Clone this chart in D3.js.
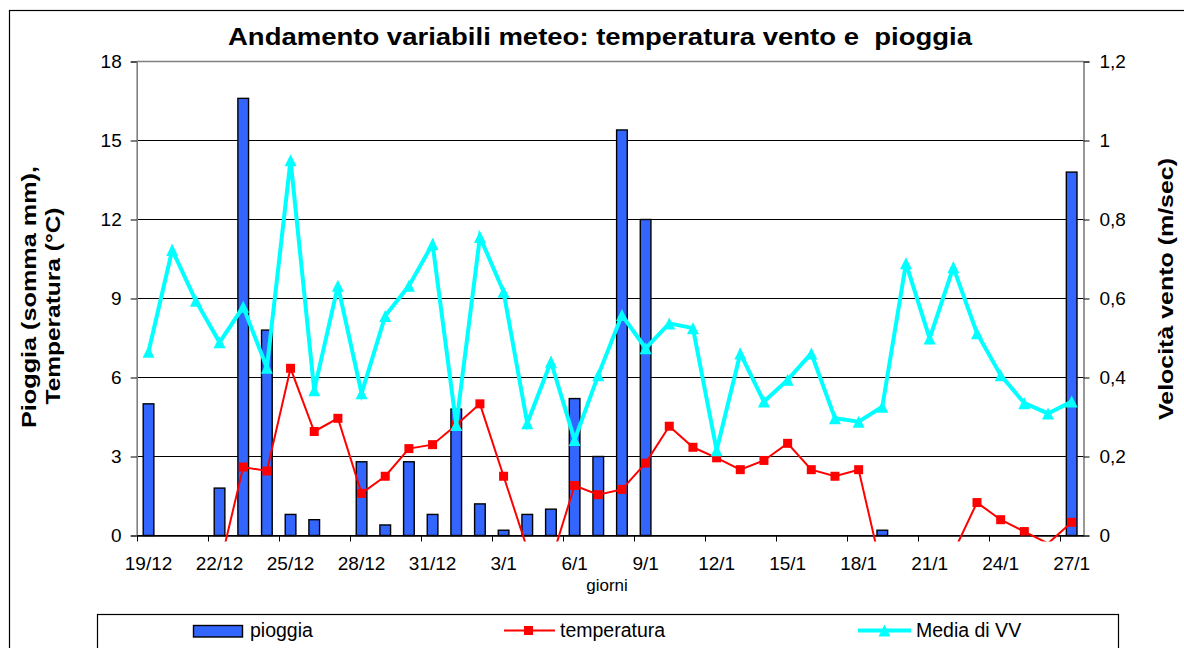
<!DOCTYPE html>
<html>
<head>
<meta charset="utf-8">
<script src="https://cdn.jsdelivr.net/npm/d3@7"></script>
<style>
  html, body { margin: 0; padding: 0; background: #fff; }
  svg { display: block; }
  text { font-family: "Liberation Sans", Arial, sans-serif; }
</style>
</head>
<body>
<svg id="chart" width="1184" height="648"></svg>
<script>
// ---- Data ----
const giorni = ["19/12","20/12","21/12","22/12","23/12","24/12","25/12","26/12","27/12","28/12",
  "29/12","30/12","31/12","1/1","2/1","3/1","4/1","5/1","6/1","7/1",
  "8/1","9/1","10/1","11/1","12/1","13/1","14/1","15/1","16/1","17/1",
  "18/1","19/1","20/1","21/1","22/1","23/1","24/1","25/1","26/1","27/1"];
const pioggia = [5.0,0,0,1.8,16.6,7.8,0.8,0.6,0,2.8,
  0.4,2.8,0.8,4.8,1.2,0.2,0.8,1.0,5.2,3.0,
  15.4,12.0,0,0,0,0,0,0,0,0,
  0,0.2,0,0,0,0,0,0,0,13.8];
const temperatura = [null,null,null,-1.2,2.6,2.45,6.35,3.95,4.45,1.6,
  2.25,3.3,3.45,4.2,5.0,2.25,-0.5,-1.0,1.9,1.55,
  1.75,2.75,4.15,3.35,2.95,2.5,2.85,3.5,2.5,2.25,
  2.5,-1.4,null,null,-0.65,1.25,0.6,0.15,-0.3,0.5];
const mediaVV = [0.465,0.723,0.594,0.489,0.579,0.425,0.95,0.368,0.632,0.36,
  0.556,0.632,0.738,0.28,0.756,0.617,0.284,0.44,0.242,0.406,
  0.558,0.474,0.537,0.525,0.216,0.461,0.339,0.394,0.461,0.297,
  0.288,0.326,0.689,0.499,0.679,0.512,0.406,0.335,0.309,0.339];
const xTickLabels = ["19/12","22/12","25/12","28/12","31/12","3/1","6/1","9/1","12/1","15/1","18/1","21/1","24/1","27/1"];
const leftTicks = [0,3,6,9,12,15,18];
const rightTicks = [0,0.2,0.4,0.6,0.8,1,1.2];
const rightTickLabels = ["0","0,2","0,4","0,6","0,8","1","1,2"];
const titleText = "Andamento variabili meteo: temperatura vento e  pioggia";
const seriesNames = ["pioggia","temperatura","Media di VV"];

// ---- Layout ----
const P = {left: 136.7, right: 1083.5, top: 61.5, bottom: 535.5};
const svg = d3.select("#chart");

const x = d3.scaleBand().domain(giorni).range([P.left, P.right]).padding(0);
const yL = d3.scaleLinear().domain([0,18]).range([P.bottom, P.top]);
const yR = d3.scaleLinear().domain([0,1.2]).range([P.bottom, P.top]);

// outer chart border
svg.append("rect").attr("x",9.5).attr("y",10.5).attr("width",1300).attr("height",800)
  .attr("fill","#fff").attr("stroke","#000").attr("stroke-width",1.2);

// clip paths
const defs = svg.append("defs");
defs.append("clipPath").attr("id","clipPlot").append("rect")
  .attr("x",P.left).attr("y",P.top - 1).attr("width",P.right-P.left).attr("height",P.bottom-P.top+1);
defs.append("clipPath").attr("id","clipLine").append("rect")
  .attr("x",P.left).attr("y",P.top - 8).attr("width",P.right-P.left).attr("height",P.bottom-P.top+14);

// gridlines
svg.append("g").selectAll("line").data(leftTicks).join("line")
  .attr("x1",P.left).attr("x2",P.right)
  .attr("y1",d=>yL(d)).attr("y2",d=>yL(d))
  .attr("stroke",d=> d===18 ? "#808080" : "#000").attr("stroke-width",d=> d===18 ? 1.6 : 1);

// left axis
const axL = svg.append("g").attr("transform",`translate(${P.left},0)`)
  .call(d3.axisLeft(yL).tickValues(leftTicks).tickSize(6).tickPadding(9));
axL.select(".domain").attr("stroke","#808080").attr("stroke-width",1.6);
axL.selectAll(".tick line").attr("stroke","#000");
axL.selectAll(".tick text").attr("font-size",19).attr("fill","#000")
  .style("font-family","'Liberation Sans', Arial, sans-serif");

// right axis
const axR = svg.append("g").attr("transform",`translate(${P.right},0)`)
  .call(d3.axisRight(yR).tickValues(rightTicks).tickSize(6).tickPadding(10)
    .tickFormat((d,i)=>rightTickLabels[i]));
axR.select(".domain").attr("stroke","#808080").attr("stroke-width",1.6);
axR.selectAll(".tick line").attr("stroke","#000");
axR.selectAll(".tick text").attr("font-size",19).attr("fill","#000")
  .style("font-family","'Liberation Sans', Arial, sans-serif");

// bars
const barW = x.bandwidth()*0.45;
svg.append("g").selectAll("rect").data(giorni.map((g,i)=>({g, v: pioggia[i]})).filter(d=>d.v>0)).join("rect")
  .attr("x",d=>x(d.g)+x.bandwidth()/2-barW/2)
  .attr("width",barW)
  .attr("y",d=>yL(d.v))
  .attr("height",d=>yL(0)-yL(d.v))
  .attr("fill","#3366FF").attr("stroke","#000").attr("stroke-width",1.4);

// bottom axis line and ticks
const axB = svg.append("g").attr("transform",`translate(0,${P.bottom})`)
  .call(d3.axisBottom(x).tickValues(xTickLabels).tickSize(0).tickPadding(21));
axB.select(".domain").attr("stroke","#000").attr("stroke-width",1.3);
axB.selectAll(".tick text").attr("font-size",19).attr("fill","#000")
  .style("font-family","'Liberation Sans', Arial, sans-serif");
svg.append("g").selectAll("line").data(xTickLabels).join("line")
  .attr("x1",d=>Math.round(x(d))+0.5).attr("x2",d=>Math.round(x(d))+0.5)
  .attr("y1",P.bottom).attr("y2",P.bottom+6)
  .attr("stroke","#000").attr("stroke-width",1);

// temperature line
const tData = giorni.map((g,i)=>({g, v: temperatura[i]}));
const cx = d => x(d.g) + x.bandwidth()/2;
svg.append("path").datum(tData)
  .attr("clip-path","url(#clipLine)")
  .attr("d", d3.line().defined(d=>d.v!==null).x(cx).y(d=>yL(d.v)))
  .attr("fill","none").attr("stroke","#FF0000").attr("stroke-width",2);
svg.append("g").attr("clip-path","url(#clipPlot)").selectAll("rect")
  .data(tData.filter(d=>d.v!==null)).join("rect")
  .attr("x",d=>cx(d)-4.5).attr("y",d=>yL(d.v)-4.5).attr("width",9).attr("height",9)
  .attr("fill","#FF0000");

// wind line
const wData = giorni.map((g,i)=>({g, v: mediaVV[i]}));
svg.append("path").datum(wData)
  .attr("d", d3.line().x(cx).y(d=>yR(d.v)))
  .attr("fill","none").attr("stroke","#00FFFF").attr("stroke-width",4).attr("stroke-linejoin","miter");
const tri = (px,py,s)=>`M${px},${py-s/2}L${px+s/2},${py+s/2}L${px-s/2},${py+s/2}Z`;
svg.append("g").selectAll("path").data(wData).join("path")
  .attr("d",d=>tri(cx(d),yR(d.v),12))
  .attr("fill","#00FFFF");

// title
svg.append("text").attr("x",600).attr("y",45).attr("text-anchor","middle")
  .attr("font-size",23).attr("font-weight","bold").style("white-space","pre")
  .attr("textLength",744).attr("lengthAdjust","spacingAndGlyphs")
  .text(titleText);

// axis titles
const lt = svg.append("g");
lt.append("text").attr("transform",`translate(36,297) rotate(-90)`)
  .attr("text-anchor","middle").attr("font-size",21).attr("font-weight","bold")
  .attr("textLength",262).attr("lengthAdjust","spacingAndGlyphs")
  .text("Pioggia (somma mm),");
lt.append("text").attr("transform",`translate(59.5,306) rotate(-90)`)
  .attr("text-anchor","middle").attr("font-size",21).attr("font-weight","bold")
  .attr("textLength",197).attr("lengthAdjust","spacingAndGlyphs")
  .text("Temperatura (°C)");
svg.append("text").attr("transform",`translate(1173,289) rotate(-90)`)
  .attr("text-anchor","middle").attr("font-size",21).attr("font-weight","bold")
  .attr("textLength",262).attr("lengthAdjust","spacingAndGlyphs")
  .text("Velocità vento (m/sec)");
svg.append("text").attr("x",607).attr("y",591).attr("text-anchor","middle")
  .attr("font-size",17).text("giorni");

// legend
const lg = svg.append("g");
lg.append("rect").attr("x",97.5).attr("y",614.5).attr("width",1021).attr("height",60)
  .attr("fill","#fff").attr("stroke","#000").attr("stroke-width",1.2);
lg.append("rect").attr("x",193.5).attr("y",625.5).attr("width",49).attr("height",11.5)
  .attr("fill","#3366FF").attr("stroke","#000").attr("stroke-width",1.4);
lg.append("text").attr("x",250).attr("y",637).attr("font-size",19.5).text(seriesNames[0]);
lg.append("line").attr("x1",504).attr("x2",555).attr("y1",630.5).attr("y2",630.5)
  .attr("stroke","#FF0000").attr("stroke-width",2);
lg.append("rect").attr("x",524).attr("y",626).attr("width",9).attr("height",9).attr("fill","#FF0000");
lg.append("text").attr("x",560).attr("y",637).attr("font-size",19.5).text(seriesNames[1]);
lg.append("line").attr("x1",858).attr("x2",911).attr("y1",630.5).attr("y2",630.5)
  .attr("stroke","#00FFFF").attr("stroke-width",4);
lg.append("path").attr("d",tri(884.5,630.5,12)).attr("fill","#00FFFF");
lg.append("text").attr("x",916).attr("y",637).attr("font-size",19.5).text(seriesNames[2]);
</script>
</body>
</html>
